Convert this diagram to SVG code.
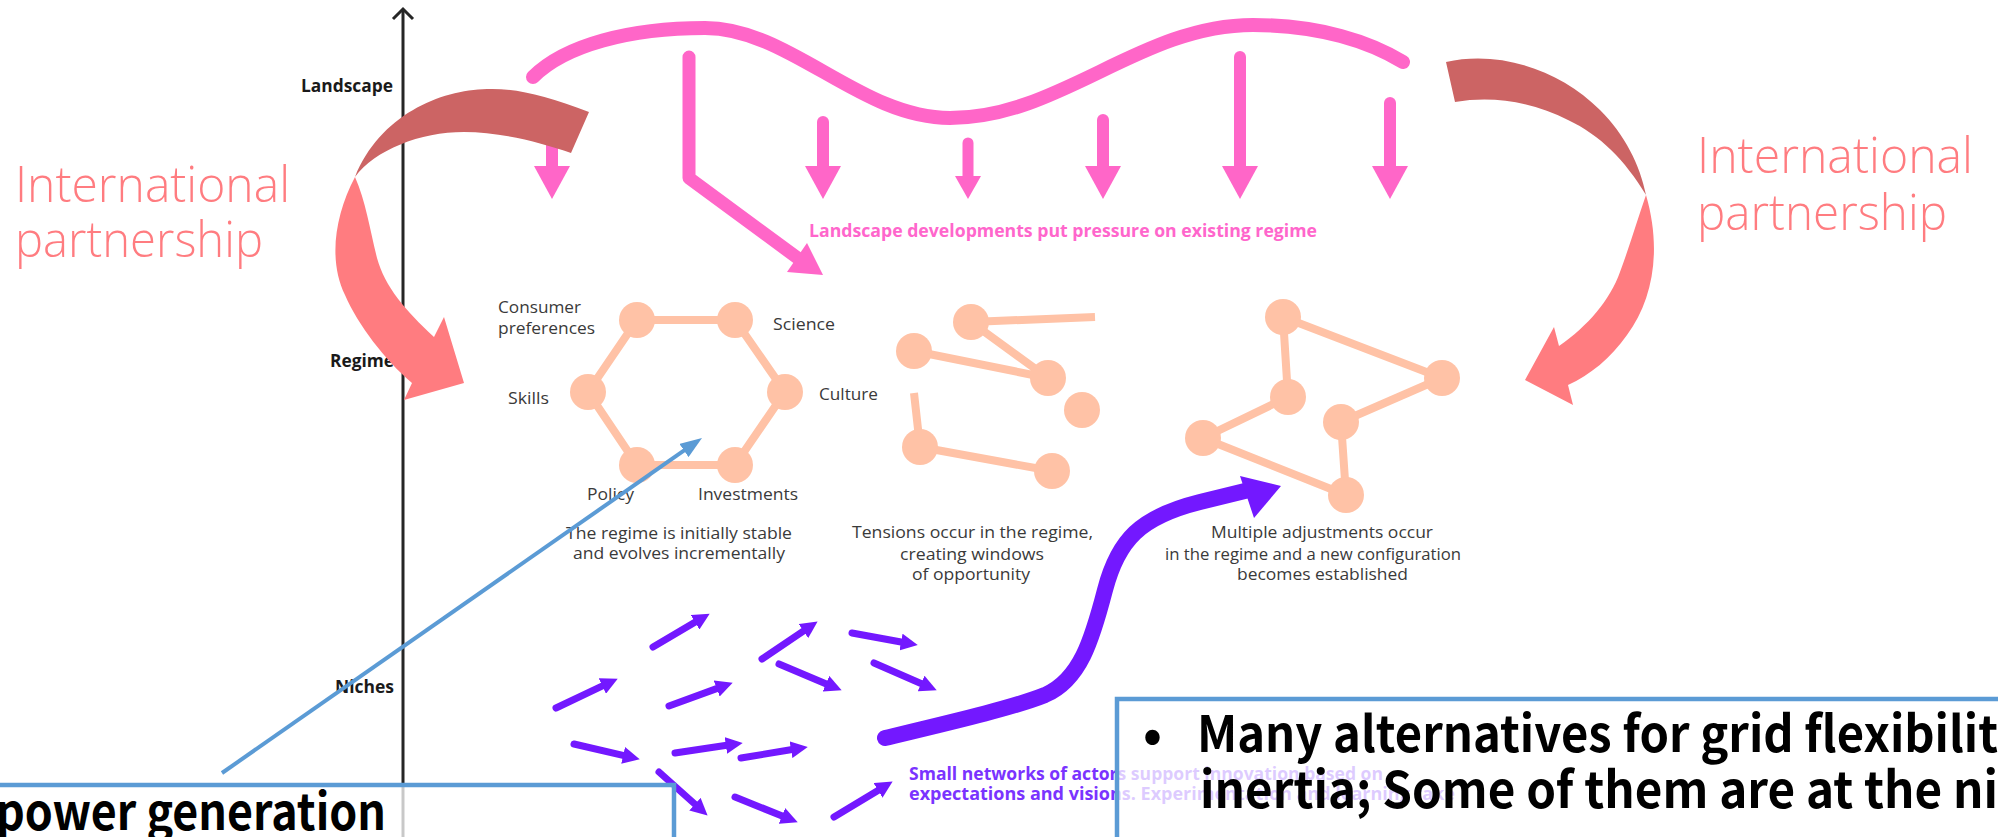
<svg xmlns="http://www.w3.org/2000/svg" width="1998" height="837" viewBox="0 0 1998 837">
<defs>
<style>
.axl{font-family:"Open Sans","Liberation Sans",sans-serif;font-weight:bold;font-size:17px;fill:#1a1a1a}
.lbl{font-family:"Open Sans","Liberation Sans",sans-serif;font-size:17px;fill:#3a3a3a}
.pk{font-family:"Open Sans","Liberation Sans",sans-serif;font-weight:bold;font-size:18px;fill:#ff66cc}
.pu{font-family:"Open Sans","Liberation Sans",sans-serif;font-weight:bold;font-size:18px;fill:#7a33ff}
.ip{font-family:"Open Sans","Liberation Sans",sans-serif;font-weight:300;font-size:49px;fill:#ff7c80}
.bx{font-family:"Noto Sans CJK JP","Liberation Sans",sans-serif;font-weight:bold;font-size:50px;fill:#000}
.edge{stroke:#ffc2a6;stroke-width:8;fill:none}
.nd{fill:#ffc2a6}
.pw{stroke:#ff66c8;fill:none;stroke-linecap:round}
.pa{stroke:#7318ff;stroke-width:7;stroke-linecap:round;fill:none}
.box{fill:#fff;fill-opacity:0.75;stroke:#5b9bd5;stroke-width:4.5}
</style>
<marker id="ph" viewBox="0 0 16 16" markerWidth="17" markerHeight="17" markerUnits="userSpaceOnUse" refX="4" refY="8" orient="auto"><path d="M0,0 L16,8 L0,16 Z" fill="#7318ff"/></marker>
<marker id="bh" viewBox="0 0 22 16" markerWidth="22" markerHeight="16" markerUnits="userSpaceOnUse" refX="2" refY="8" orient="auto"><path d="M0,0 L22,8 L0,16 Z" fill="#5b9bd5"/></marker>
</defs>
<rect width="1998" height="837" fill="#fff"/>

<g id="axis">
<line x1="403" y1="9" x2="403" y2="837" stroke="#262626" stroke-width="3"/>
<path d="M393,19 L403,9 L413,19" fill="none" stroke="#262626" stroke-width="3"/>
<text class="axl" x="301" y="92" textLength="92" lengthAdjust="spacingAndGlyphs">Landscape</text>
<text class="axl" x="330" y="367" textLength="64" lengthAdjust="spacingAndGlyphs">Regime</text>
<text class="axl" x="335" y="693" textLength="59" lengthAdjust="spacingAndGlyphs">Niches</text>
</g>

<g id="landscape">
<path class="pw" stroke-width="14" d="M533,77 C565,45 630,28 705,28 C790,28 860,118 950,118 C1060,118 1140,25 1253,25 C1320,25 1370,42 1403,62"/>
<g fill="#ff66c8">
<line class="pw" stroke-width="12" x1="552" y1="143" x2="552" y2="170"/><polygon points="534,166 570,166 552,199"/>
<line class="pw" stroke-width="12" x1="823" y1="122" x2="823" y2="170"/><polygon points="805,166 841,166 823,199"/>
<line class="pw" stroke-width="11" x1="968" y1="143" x2="968" y2="180"/><polygon points="955,176 981,176 968,199"/>
<line class="pw" stroke-width="12" x1="1103" y1="120" x2="1103" y2="170"/><polygon points="1085,166 1121,166 1103,199"/>
<line class="pw" stroke-width="12" x1="1240" y1="57" x2="1240" y2="170"/><polygon points="1222,166 1258,166 1240,199"/>
<line class="pw" stroke-width="12" x1="1390" y1="103" x2="1390" y2="170"/><polygon points="1372,166 1408,166 1390,199"/>
<path class="pw" stroke-width="13" stroke-linejoin="round" d="M689,57 L689,178 L799,259"/>
<polygon points="787,272 807,243 823,275"/>
</g>
<text class="pk" x="809" y="237" textLength="508" lengthAdjust="spacingAndGlyphs">Landscape developments put pressure on existing regime</text>
</g>

<g id="regime-stable">
<polygon class="edge" points="637,320 735,320 785,392 735,465 637,465 588,392"/>
<circle class="nd" cx="637" cy="320" r="18"/><circle class="nd" cx="735" cy="320" r="18"/><circle class="nd" cx="785" cy="392" r="18"/>
<circle class="nd" cx="735" cy="465" r="18"/><circle class="nd" cx="637" cy="465" r="18"/><circle class="nd" cx="588" cy="392" r="18"/>
<text class="lbl" x="498" y="313" textLength="83" lengthAdjust="spacingAndGlyphs">Consumer</text>
<text class="lbl" x="498" y="334" textLength="97" lengthAdjust="spacingAndGlyphs">preferences</text>
<text class="lbl" x="773" y="330" textLength="62" lengthAdjust="spacingAndGlyphs">Science</text>
<text class="lbl" x="508" y="404" textLength="41" lengthAdjust="spacingAndGlyphs">Skills</text>
<text class="lbl" x="819" y="400" textLength="59" lengthAdjust="spacingAndGlyphs">Culture</text>
<text class="lbl" x="587" y="500" textLength="47" lengthAdjust="spacingAndGlyphs">Policy</text>
<text class="lbl" x="698" y="500" textLength="100" lengthAdjust="spacingAndGlyphs">Investments</text>
<text class="lbl" x="566" y="539" textLength="226" lengthAdjust="spacingAndGlyphs">The regime is initially stable</text>
<text class="lbl" x="573" y="559" textLength="212" lengthAdjust="spacingAndGlyphs">and evolves incrementally</text>
</g>

<g id="regime-tension">
<path class="edge" d="M971,322 L1095,317 M971,322 L1048,378 M914,351 L1048,378 M920,447 L914,393 M920,447 L1052,471"/>
<circle class="nd" cx="971" cy="322" r="18"/><circle class="nd" cx="914" cy="351" r="18"/><circle class="nd" cx="1048" cy="378" r="18"/>
<circle class="nd" cx="1082" cy="410" r="18"/><circle class="nd" cx="920" cy="447" r="18"/><circle class="nd" cx="1052" cy="471" r="18"/>
<text class="lbl" x="852" y="538" textLength="241" lengthAdjust="spacingAndGlyphs">Tensions occur in the regime,</text>
<text class="lbl" x="900" y="560" textLength="144" lengthAdjust="spacingAndGlyphs">creating windows</text>
<text class="lbl" x="912" y="580" textLength="118" lengthAdjust="spacingAndGlyphs">of opportunity</text>
</g>

<g id="regime-new">
<path class="edge" d="M1283,317 L1442,378 M1283,317 L1288,397 M1288,397 L1203,438 M1203,438 L1346,495 M1346,495 L1341,422 M1341,422 L1442,378"/>
<circle class="nd" cx="1283" cy="317" r="18"/><circle class="nd" cx="1442" cy="378" r="18"/><circle class="nd" cx="1288" cy="397" r="18"/>
<circle class="nd" cx="1203" cy="438" r="18"/><circle class="nd" cx="1341" cy="422" r="18"/><circle class="nd" cx="1346" cy="495" r="18"/>
<text class="lbl" x="1211" y="538" textLength="222" lengthAdjust="spacingAndGlyphs">Multiple adjustments occur</text>
<text class="lbl" x="1165" y="560" textLength="296" lengthAdjust="spacingAndGlyphs">in the regime and a new configuration</text>
<text class="lbl" x="1237" y="580" textLength="171" lengthAdjust="spacingAndGlyphs">becomes established</text>
</g>

<g id="partnership-left">
<path fill="#cc6464" d="M589,112 C545,95 515,88 487,89 C440,90 380,115 355,177 C375,150 420,132 464,132 C500,132 540,142 571,153 Z"/>
<path fill="#ff7c80" d="M355,177 C335,215 328,260 345,295 C358,325 385,360 412,383 L404,400 L464,383 L444,317 L434,337 C405,310 385,287 377,258 C370,230 366,202 355,177 Z"/>
<text class="ip" x="15" y="202" textLength="275" lengthAdjust="spacingAndGlyphs">International</text>
<text class="ip" x="15" y="257" textLength="248" lengthAdjust="spacingAndGlyphs">partnership</text>
</g>

<g id="partnership-right">
<path fill="#cc6464" d="M1446,62 C1500,50 1560,70 1600,110 C1625,135 1640,165 1646,195 C1625,160 1600,135 1568,120 C1535,103 1495,95 1455,102 Z"/>
<path fill="#ff7c80" d="M1646,195 C1662,250 1653,300 1627,335 C1611,358 1590,375 1568,385 L1573,405 L1525,380 L1554,327 L1559,346 C1588,326 1610,300 1620,272 C1630,245 1638,218 1646,195 Z"/>
<text class="ip" x="1697" y="173" textLength="276" lengthAdjust="spacingAndGlyphs">International</text>
<text class="ip" x="1697" y="230" textLength="250" lengthAdjust="spacingAndGlyphs">partnership</text>
</g>

<g id="niches">
<path class="pa" marker-end="url(#ph)" d="M653,647 L698.7,620.1"/>
<path class="pa" marker-end="url(#ph)" d="M556,708 L606.2,684.2"/>
<path class="pa" marker-end="url(#ph)" d="M669,706 L720.7,687.1"/>
<path class="pa" marker-end="url(#ph)" d="M762,659 L807,628.7"/>
<path class="pa" marker-end="url(#ph)" d="M779,664 L829.9,685.4"/>
<path class="pa" marker-end="url(#ph)" d="M852,633 L905.2,642.8"/>
<path class="pa" marker-end="url(#ph)" d="M874,663 L925,685.2"/>
<path class="pa" marker-end="url(#ph)" d="M574,744 L627.3,756.3"/>
<path class="pa" marker-end="url(#ph)" d="M675,753 L730.1,744.8"/>
<path class="pa" marker-end="url(#ph)" d="M741,758 L795.2,749"/>
<path class="pa" marker-end="url(#ph)" d="M659,772 L698.1,807"/>
<path class="pa" marker-end="url(#ph)" d="M735,797 L785.9,817.5"/>
<path class="pa" marker-end="url(#ph)" d="M834,817 L881.7,788.2"/>
<path d="M885,738 C960,720 1015,707 1045,695 C1080,680 1092,640 1105,590 C1118,540 1140,517 1200,502 L1249,490" fill="none" stroke="#7318ff" stroke-width="16" stroke-linecap="round"/>
<polygon points="1240,476 1281,486 1254,518" fill="#7318ff"/>
<text class="pu" x="909" y="780" textLength="474" lengthAdjust="spacingAndGlyphs">Small networks of actors support innovation based on</text>
<text class="pu" x="909" y="800" textLength="546" lengthAdjust="spacingAndGlyphs">expectations and visions. Experimentation and learning take</text>
</g>

<g id="connectors">
<path d="M222,773 L685.6,449.4" stroke="#5b9bd5" stroke-width="4" fill="none" marker-end="url(#bh)"/>
</g>

<g id="note-left">
<rect class="box" x="-20" y="785" width="694" height="100"/>
<text class="bx" x="-4" y="830" textLength="390" lengthAdjust="spacingAndGlyphs">power generation</text>
</g>

<g id="note-right">
<rect class="box" x="1117" y="699" width="900" height="200"/>
<text class="bx" x="1143" y="752">•</text>
<text class="bx" x="1197" y="752" textLength="801" lengthAdjust="spacingAndGlyphs">Many alternatives for grid flexibilit</text>
<text class="bx" x="1200" y="808" textLength="798" lengthAdjust="spacingAndGlyphs">inertia; Some of them are at the ni</text>
</g>
</svg>
